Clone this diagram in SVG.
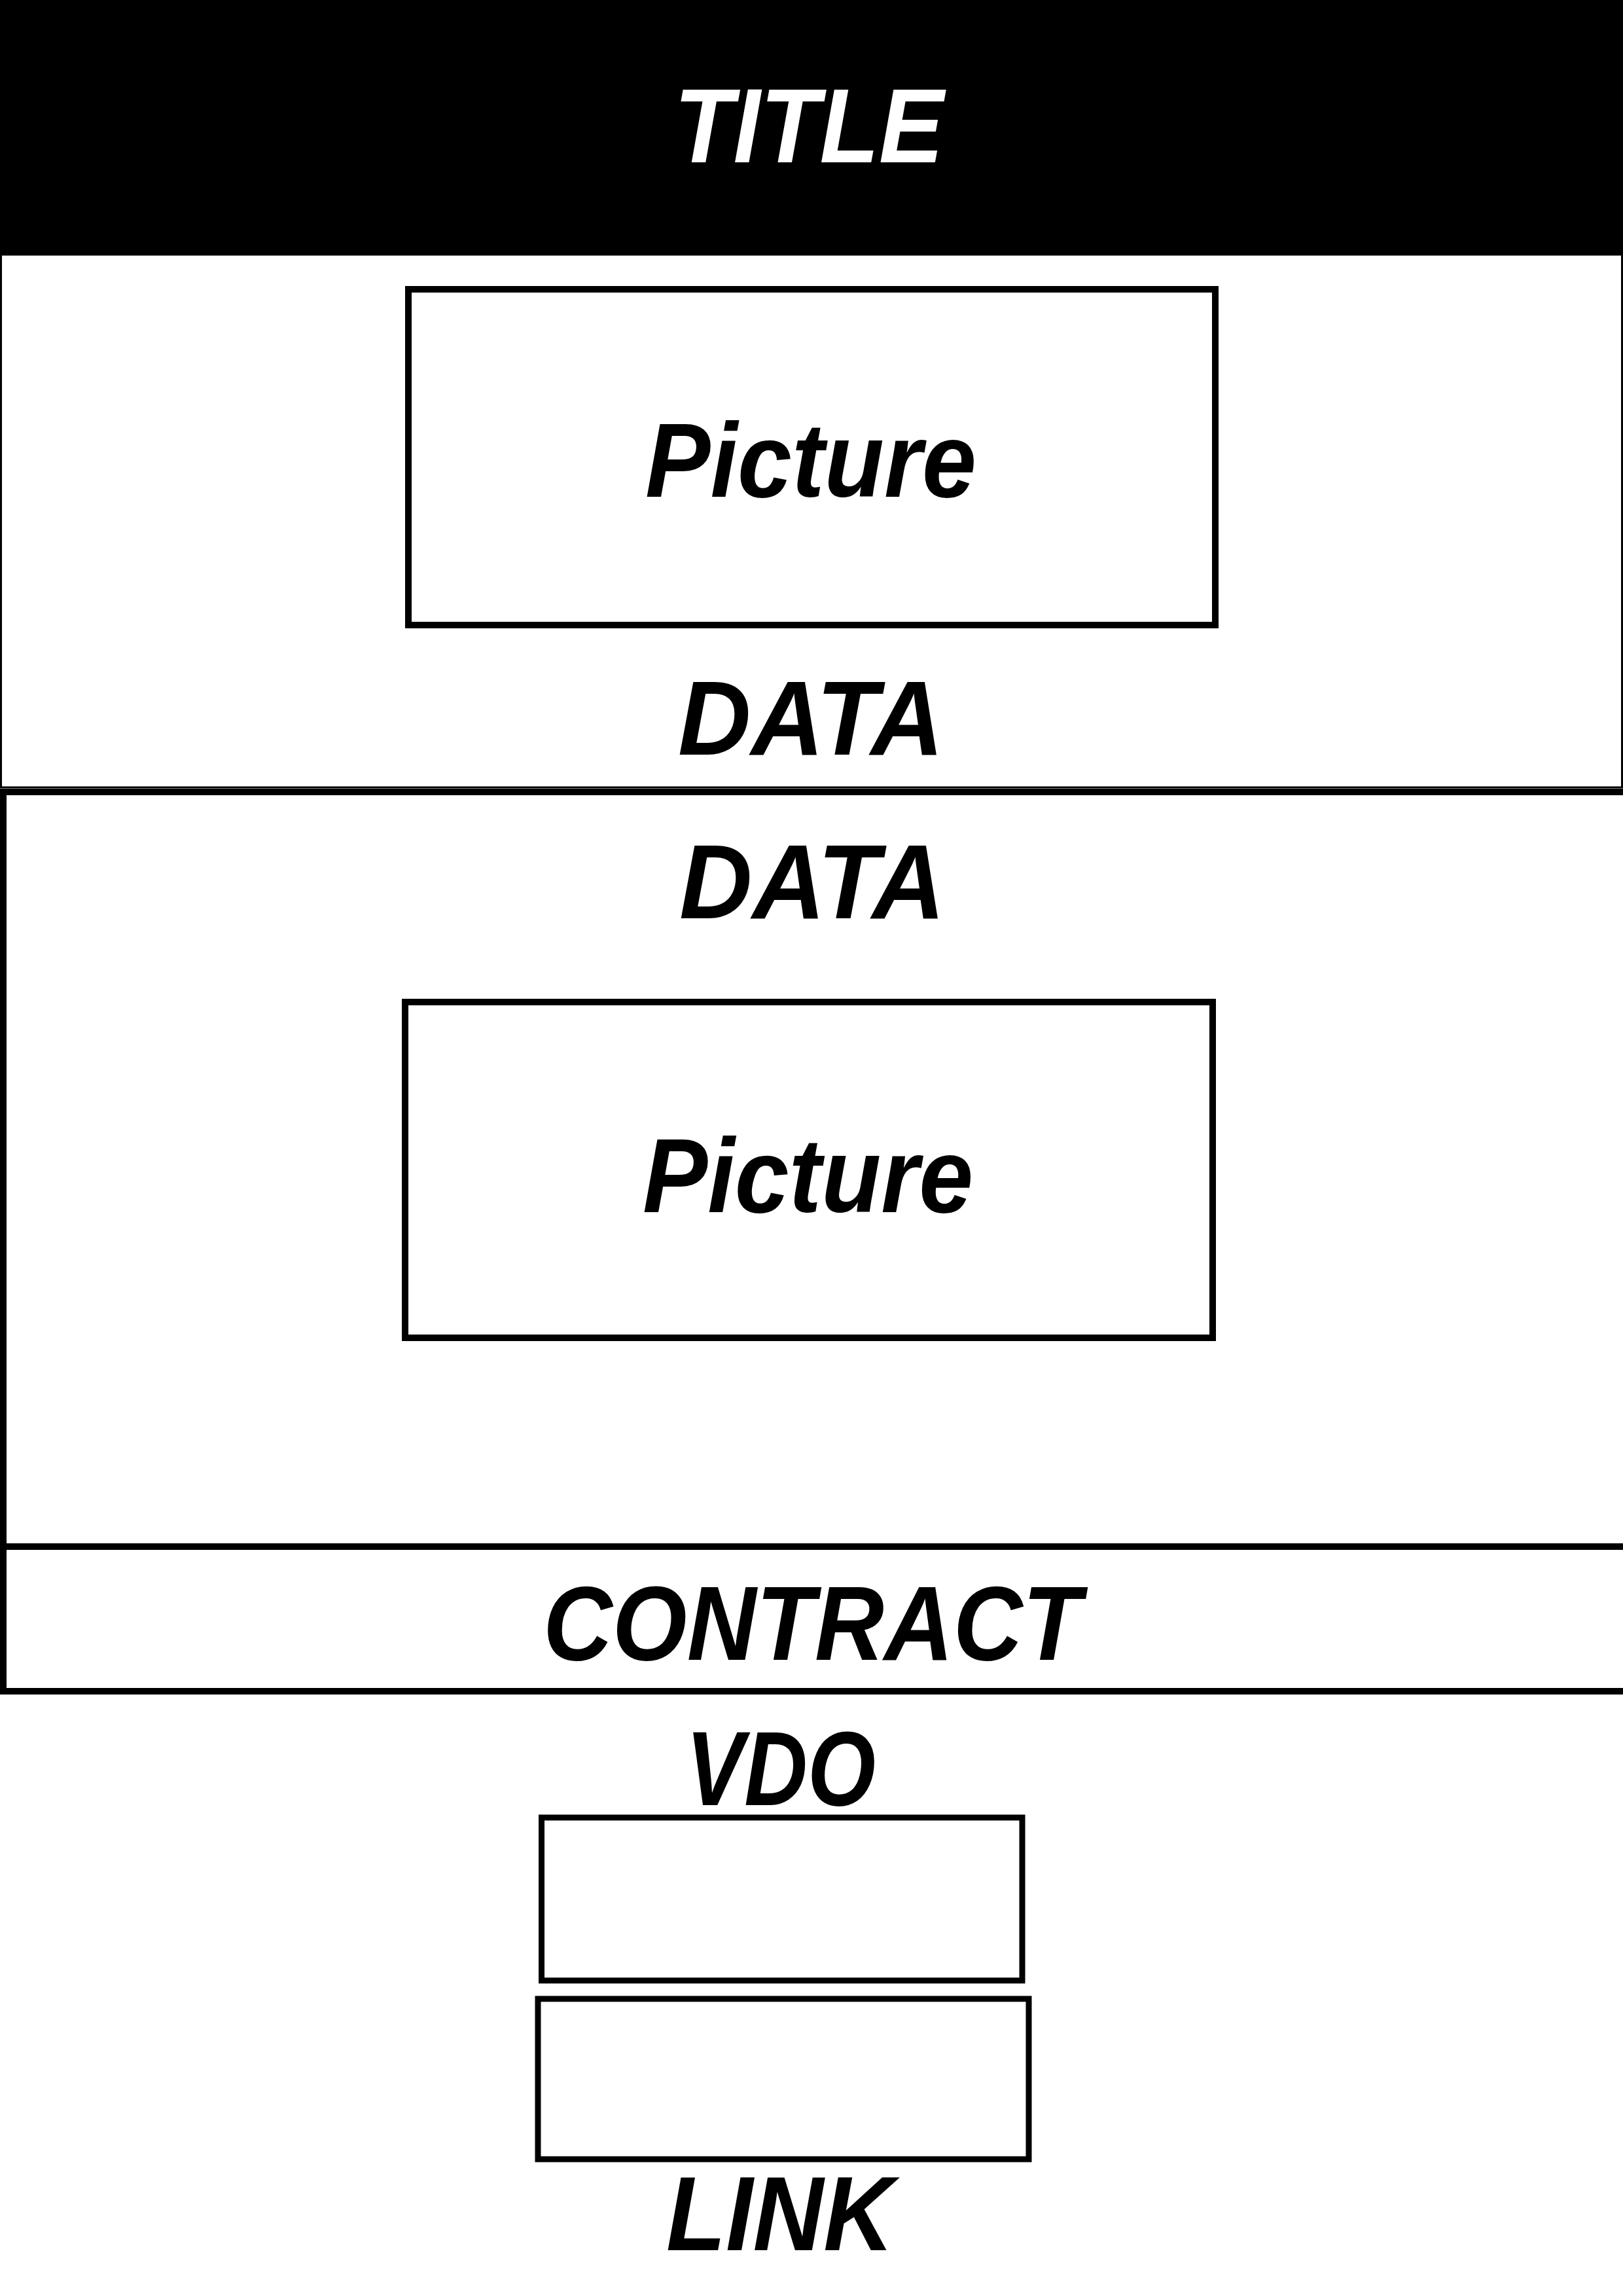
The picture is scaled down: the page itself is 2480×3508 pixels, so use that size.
<svg xmlns="http://www.w3.org/2000/svg" width="2480" height="3508" viewBox="0 0 2480 3508">
<style>
.lbl{font-family:"Liberation Sans",Arial,sans-serif;font-weight:bold;font-style:italic;font-size:162px;fill:#000}
.box{fill:none;stroke:#000}
</style>
<rect x="0" y="0" width="2480" height="3508" fill="#fff"/>
<g id="title">
<rect x="0" y="0" width="2480" height="389" fill="#000"/>
<text class="lbl" x="1030" y="248" textLength="412" lengthAdjust="spacingAndGlyphs" style="fill:#fff">TITLE</text>
</g>
<g id="section1">
<rect class="box" x="1.5" y="389" width="2477" height="814" stroke-width="3"/>
</g>
<g id="picture1">
<rect class="box" x="624" y="442" width="1233" height="513" stroke-width="10"/>
<text class="lbl" x="986" y="759" textLength="506" lengthAdjust="spacingAndGlyphs">Picture</text>
</g>
<g id="data1">
<text class="lbl" x="1036" y="1153" textLength="406" lengthAdjust="spacingAndGlyphs">DATA</text>
</g>
<g id="section2">
<rect class="box" x="5" y="1210" width="2490" height="1153" stroke-width="10"/>
<text class="lbl" x="1038" y="1403" textLength="406" lengthAdjust="spacingAndGlyphs">DATA</text>
</g>
<g id="picture2">
<rect class="box" x="619" y="1531" width="1234" height="513" stroke-width="10"/>
<text class="lbl" x="982" y="1852" textLength="505" lengthAdjust="spacingAndGlyphs">Picture</text>
</g>
<g id="contract">
<rect class="box" x="5" y="2363" width="2490" height="221" stroke-width="10"/>
<text class="lbl" x="830" y="2536" textLength="822" lengthAdjust="spacingAndGlyphs">CONTRACT</text>
</g>
<g id="vdo">
<text class="lbl" x="1048" y="2758" textLength="290" lengthAdjust="spacingAndGlyphs">VDO</text>
<rect class="box" x="827.5" y="2777" width="734.5" height="249" stroke-width="9"/>
</g>
<g id="link">
<rect class="box" x="822" y="3054" width="750" height="245" stroke-width="9"/>
<text class="lbl" x="1018" y="3438" textLength="348" lengthAdjust="spacingAndGlyphs">LINK</text>
</g>
<g id="connectors"></g>
</svg>
